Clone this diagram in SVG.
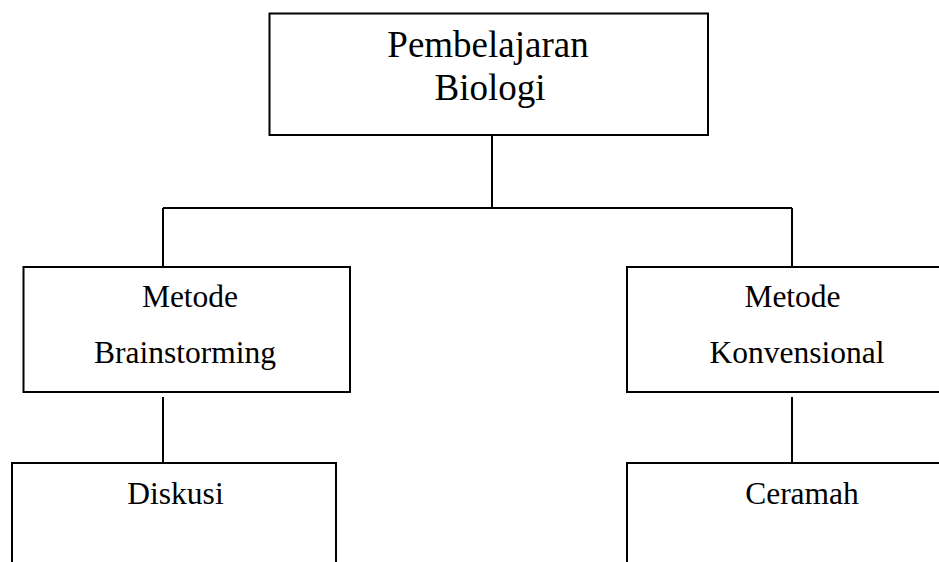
<svg xmlns="http://www.w3.org/2000/svg" width="939" height="562" viewBox="0 0 939 562">
<style>
.box{fill:#fff;stroke:#000;stroke-width:2}
.ln{stroke:#000;stroke-width:2;fill:none}
text{font-family:"Liberation Serif","Times New Roman",serif;fill:#000}
.t1{font-size:37px}
.t2{font-size:31.5px}
</style>
<rect width="939" height="562" fill="#fff"/>
<g id="connectors">
<line class="ln" x1="492" y1="135" x2="492" y2="208"/>
<line class="ln" x1="163" y1="208" x2="792" y2="208"/>
<line class="ln" x1="163" y1="208" x2="163" y2="267"/>
<line class="ln" x1="792" y1="208" x2="792" y2="267"/>
<line class="ln" x1="163" y1="397" x2="163" y2="463"/>
<line class="ln" x1="792" y1="397" x2="792" y2="463"/>
</g>
<g id="pembelajaran">
<rect class="box" x="269.5" y="13.5" width="438.5" height="121.5"/>
<text class="t1" x="488" y="57" text-anchor="middle">Pembelajaran</text>
<text class="t1" x="490" y="100" text-anchor="middle">Biologi</text>
</g>
<g id="brainstorming">
<rect class="box" x="23.5" y="267" width="326.5" height="125"/>
<text class="t2" x="190" y="307" text-anchor="middle">Metode</text>
<text class="t2" x="185" y="363" text-anchor="middle">Brainstorming</text>
</g>
<g id="konvensional">
<rect class="box" x="627" y="267" width="330" height="125"/>
<text class="t2" x="792.5" y="307" text-anchor="middle">Metode</text>
<text class="t2" x="797" y="363" text-anchor="middle">Konvensional</text>
</g>
<g id="diskusi">
<rect class="box" x="12" y="463" width="324" height="120"/>
<text class="t2" x="175.5" y="504" text-anchor="middle">Diskusi</text>
</g>
<g id="ceramah">
<rect class="box" x="627" y="463" width="330" height="120"/>
<text class="t2" x="802" y="504" text-anchor="middle">Ceramah</text>
</g>
</svg>
